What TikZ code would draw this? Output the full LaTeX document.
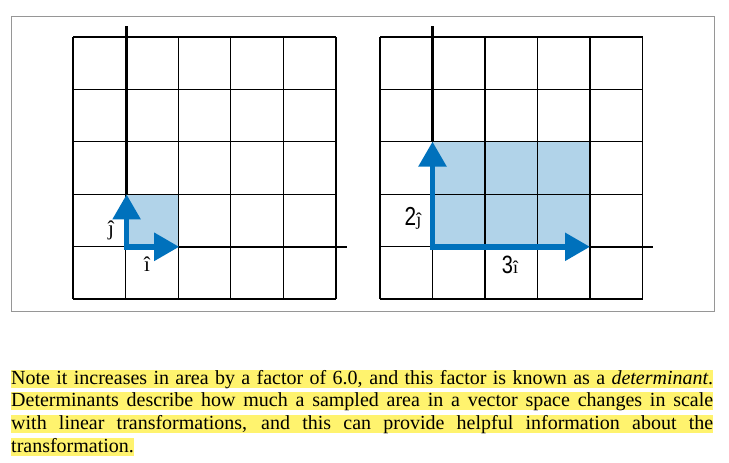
\documentclass[tikz,border=0pt]{standalone}
\usepackage{fontspec}
\setmainfont{Liberation Serif}
\newfontfamily\lblfont[FakeStretch=0.8]{Liberation Sans}
\usetikzlibrary{arrows.meta}
\definecolor{vecblue}{RGB}{0,113,188}
\definecolor{areablue}{RGB}{177,211,233}
\definecolor{hilite}{RGB}{255,243,110}
\definecolor{framegray}{RGB}{150,150,150}
\tikzset{
  gridline/.style={black, line width=1.2pt},
  axisline/.style={black, line width=2.6pt},
  vecarrow/.style={vecblue, line width=5.5pt, line cap=rect, -{Triangle[length=25pt,width=27pt]}},
  area/.style={fill=areablue, draw=none},
  serlabel/.style={inner sep=0pt, font=\fontsize{21}{21}\selectfont},
  sanslabel/.style={inner sep=0pt},
  textline/.style={anchor=base west, inner sep=0pt, fill=hilite, text height=14.5pt, text depth=3.5pt, font=\fontsize{20}{22}\selectfont}
}
\begin{document}
\begin{tikzpicture}[x=1pt,y=-1pt]
\useasboundingbox (0,0) rectangle (729,463);
% frame
\draw[framegray, line width=1pt] (11,16) rectangle (714,311);

% ---------- left panel ----------
\fill[area] (126.3,194) rectangle (178.8,246.8);
\foreach \i in {0,...,5} {
  \draw[gridline] (73+52.6*\i,37) -- (73+52.6*\i,299);
  \draw[gridline] (73,37+52.4*\i) -- (336,37+52.4*\i);
}
\coordinate (O1) at (126.6,246.8);
\coordinate (I1) at (179.2,246.8);
\coordinate (J1) at (126.6,194.4);
\coordinate (Y1) at (126.6,26);
\coordinate (X1) at (347,246.8);
\draw[axisline] (J1) -- (Y1);
\draw[axisline] (I1) -- (X1);
\draw[vecarrow] (O1) -- (J1);
\draw[vecarrow] (O1) -- (I1);
\node[serlabel] (lj) at (111,230) {ĵ};
\node[serlabel] (li) at (147,264) {î};

% ---------- right panel ----------
\fill[area] (432.5,141.6) rectangle (590,246.8);
\foreach \i in {0,...,5} {
  \draw[gridline] (380+52.5*\i,37) -- (380+52.5*\i,299);
  \draw[gridline] (380,37+52.4*\i) -- (642.5,37+52.4*\i);
}
\coordinate (O2) at (432.5,246.8);
\coordinate (I2) at (590,246.8);
\coordinate (J2) at (432.5,141.6);
\coordinate (Y2) at (432.5,26);
\coordinate (X2) at (653,246.8);
\draw[axisline] (J2) -- (Y2);
\draw[axisline] (I2) -- (X2);
\draw[vecarrow] (O2) -- (J2);
\draw[vecarrow] (O2) -- (I2);
\node[sanslabel] (rj) at (413,218) {{\lblfont\fontsize{26}{26}\selectfont 2}{\fontsize{18}{18}\selectfont ĵ}};
\node[sanslabel] (ri) at (510,265) {{\lblfont\fontsize{25}{25}\selectfont 3}{\fontsize{18}{18}\selectfont î}};

% ---------- text ----------
\node[textline] (t1) at (11,384) {\makebox[702pt][s]{Note it increases in area by a factor of 6.0, and this factor is known as a \textit{determinant}.}};
\node[textline] (t2) at (11,406.5) {\makebox[702pt][s]{Determinants describe how much a sampled area in a vector space changes in scale}};
\node[textline] (t3) at (11,429.5) {\makebox[702pt][s]{with linear transformations, and this can provide helpful information about the}};
\node[textline] (t4) at (11,452.5) {transformation.};
\end{tikzpicture}
\end{document}
